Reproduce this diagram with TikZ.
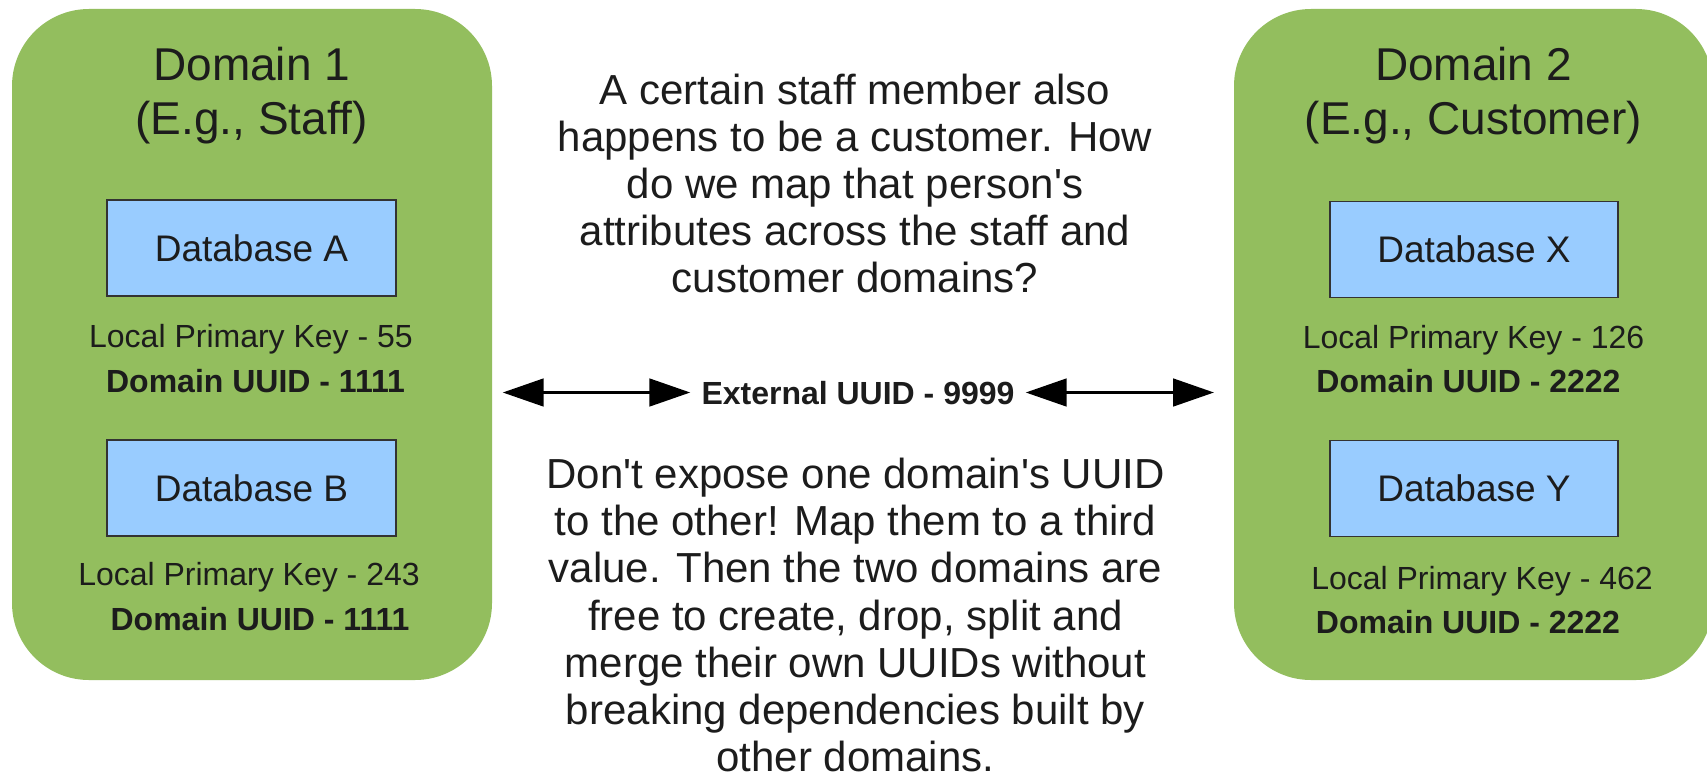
\documentclass[tikz,border=0pt]{standalone}
\usepackage{fontspec}
\setmainfont{Liberation Sans}
\usetikzlibrary{arrows.meta}
\definecolor{domgreen}{RGB}{147,190,94}
\definecolor{dbblue}{RGB}{153,204,255}
\definecolor{dbline}{RGB}{51,51,51}
\definecolor{ink}{RGB}{28,28,28}
\tikzset{
  domainbox/.style={rectangle, rounded corners=77pt, fill=domgreen, draw=none, inner sep=0pt},
  dbbox/.style={rectangle, fill=dbblue, draw=dbline, line width=1.2pt, minimum width=289pt, minimum height=96pt, inner sep=0pt},
  dbtext/.style={anchor=base, inner sep=0pt, text=ink, font=\fontsize{37}{44}\selectfont},
  titletext/.style={anchor=base, inner sep=0pt, text=ink, font=\fontsize{46}{53}\selectfont},
  keytext/.style={anchor=base, inner sep=0pt, text=ink, font=\fontsize{32}{38}\selectfont},
  uuidtext/.style={anchor=base, inner sep=0pt, text=ink, font=\fontsize{32}{38}\selectfont\bfseries},
  bodytext/.style={anchor=base, inner sep=0pt, text=ink, font=\fontsize{42}{47}\selectfont},
  exttext/.style={anchor=base, inner xsep=11pt, inner ysep=0pt, text=ink, font=\fontsize{32}{38}\selectfont\bfseries},
  dblarrow/.style={line width=3.3pt, {Triangle[length=41pt,width=27.5pt]}-{Triangle[length=41pt,width=27.5pt]}}
}
\begin{document}
\begin{tikzpicture}[x=1pt,y=-1pt]
\useasboundingbox (0,0) rectangle (1707,776);
\clip (0,0) rectangle (1707,776);
\fill[white] (0,0) rectangle (1707,776);

% Domains
\node[domainbox, minimum width=480pt, minimum height=671pt] (dom1) at (252,344.5) {};
\node[domainbox, minimum width=479pt, minimum height=671pt] (dom2) at (1473.5,344.5) {};

% Domain 1 contents
\node[titletext] (d1t1) at (251.7,81) {Domain 1};
\node[titletext] (d1t2) at (251.5,134) {(E.g., Staff)};
\node[dbbox] (dbA) at (251.5,248) {};
\node[dbtext] (dbAt) at (251.5,261) {Database A};
\node[keytext] (kA) at (251,347) {Local Primary Key - 55};
\node[uuidtext] (uA) at (255.5,392) {Domain UUID - 1111};
\node[dbbox] (dbB) at (251.5,488) {};
\node[dbtext] (dbBt) at (251.5,501) {Database B};
\node[keytext] (kB) at (249,585) {Local Primary Key - 243};
\node[uuidtext] (uB) at (260,630) {Domain UUID - 1111};

% Domain 2 contents
\node[titletext] (d2t1) at (1473.5,81) {Domain 2};
\node[titletext] (d2t2) at (1473.5,134) {(E.g., Customer)};
\node[dbbox, minimum width=288pt] (dbX) at (1474,249.5) {};
\node[dbtext] (dbXt) at (1474,262.5) {Database X};
\node[keytext] (kX) at (1473.5,348.5) {Local Primary Key - 126};
\node[uuidtext] (uX) at (1468.5,392.5) {Domain UUID - 2222};
\node[dbbox, minimum width=288pt] (dbY) at (1474,488.5) {};
\node[dbtext] (dbYt) at (1474,501.5) {Database Y};
\node[keytext] (kY) at (1482,589) {Local Primary Key - 462};
\node[uuidtext] (uY) at (1468,633) {Domain UUID - 2222};

% Middle texts
\node[bodytext] (q1) at (855,104.3) {A certain staff member also};
\node[bodytext] (q2) at (855,151.3) {happens to be a customer. How};
\node[bodytext] (q3) at (855,198.3) {do we map that person\textquotesingle s};
\node[bodytext] (q4) at (855,245.3) {attributes across the staff and};
\node[bodytext] (q5) at (855,292.3) {customer domains?};

\node[bodytext] (a1) at (855.5,488.3) {Don\textquotesingle t expose one domain\textquotesingle s UUID};
\node[bodytext] (a2) at (855.5,535.6) {to the other! Map them to a third};
\node[bodytext] (a3) at (855.5,582.9) {value. Then the two domains are};
\node[bodytext] (a4) at (855.5,630.2) {free to create, drop, split and};
\node[bodytext] (a5) at (855.5,677.5) {merge their own UUIDs without};
\node[bodytext] (a6) at (855.5,724.8) {breaking dependencies built by};
\node[bodytext] (a7) at (855.5,771.5) {other domains.};

% External UUID with arrows
\node[exttext] (ext) at (858,404.3) {External UUID - 9999};
\coordinate (la) at (502.7,392.5);
\coordinate (ra) at (1214,392.5);
\draw[dblarrow] (la) -- (la -| ext.west);
\draw[dblarrow] (ra -| ext.east) -- (ra);
\end{tikzpicture}
\end{document}
